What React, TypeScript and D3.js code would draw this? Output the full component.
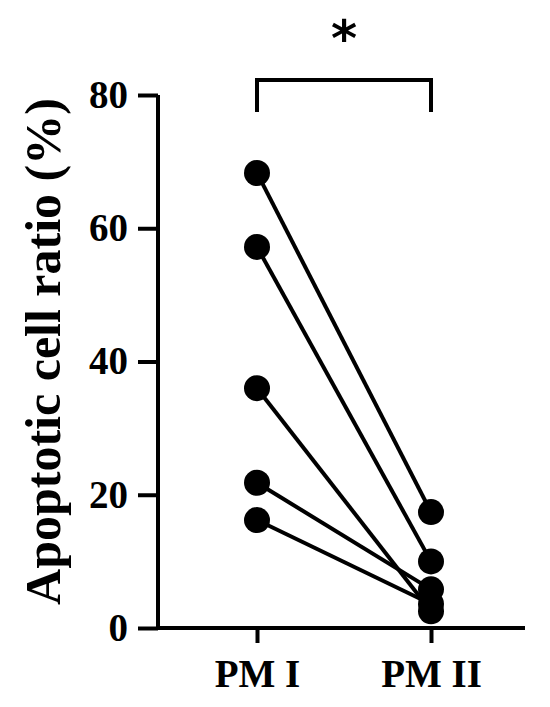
import React, { useEffect, useRef } from 'react';
import * as d3 from 'd3';

const groups = ['PM I', 'PM II'];
const pmI = [68.3, 57.2, 36.0, 21.8, 16.2];
const pmII = [17.4, 10.0, 2.5, 5.8, 3.6];
const yTicks = [0, 20, 40, 60, 80];
const yLabel = 'Apoptotic cell ratio (%)';
const sigLabel = '*';

export default function App() {
  const ref = useRef<SVGSVGElement | null>(null);

  useEffect(() => {
    const svg = d3.select(ref.current);
    svg.selectAll('*').remove();

    const font = '"Liberation Serif", "Times New Roman", serif';
    const left = 158;
    const right = 525;
    const top = 95;
    const bottom = 628;

    const x = d3.scalePoint<string>().domain(groups).range([257, 431]);
    const y = d3.scaleLinear().domain([0, 80]).range([bottom, top]);

    // axes
    const yAxis = svg.append('g').attr('transform', `translate(${left},0)`)
      .call(d3.axisLeft(y).tickValues(yTicks).tickSize(20).tickPadding(10).tickFormat(d3.format('d')));
    yAxis.select('.domain').attr('d', `M0,${top}V${bottom}`).attr('stroke-width', 4);
    yAxis.selectAll('.tick line').attr('stroke-width', 4);
    yAxis.selectAll('.tick text')
      .attr('font-family', font).attr('font-weight', 'bold').attr('font-size', 39).attr('fill', '#000');

    const xAxis = svg.append('g').attr('transform', `translate(0,${bottom})`)
      .call(d3.axisBottom(x).tickSize(15).tickPadding(16));
    xAxis.select('.domain').attr('d', `M${left},0H${right}`).attr('stroke-width', 4);
    xAxis.selectAll('.tick line').attr('stroke-width', 4);
    xAxis.selectAll('.tick text')
      .attr('font-family', font).attr('font-weight', 'bold').attr('font-size', 39).attr('fill', '#000');

    // paired lines
    const pairs = pmI.map((v, i) => [v, pmII[i]]);
    svg.append('g').selectAll('line').data(pairs).join('line')
      .attr('x1', x('PM I')!).attr('x2', x('PM II')!)
      .attr('y1', d => y(d[0])).attr('y2', d => y(d[1]))
      .attr('stroke', '#000').attr('stroke-width', 4);

    const pts = [
      ...pmI.map(v => ({ g: 'PM I', v })),
      ...pmII.map(v => ({ g: 'PM II', v })),
    ];
    svg.append('g').selectAll('circle').data(pts).join('circle')
      .attr('cx', d => x(d.g)!).attr('cy', d => y(d.v)).attr('r', 13).attr('fill', '#000');

    // significance bracket
    const by = 80;
    svg.append('path')
      .attr('d', `M${x('PM I')},${by + 32}V${by}H${x('PM II')}V${by + 32}`)
      .attr('fill', 'none').attr('stroke', '#000').attr('stroke-width', 4);
    svg.append('text')
      .attr('x', (x('PM I')! + x('PM II')!) / 2).attr('y', 56)
      .attr('text-anchor', 'middle').attr('font-family', '"DejaVu Sans", sans-serif')
      .attr('font-weight', 'bold').attr('font-size', 50).attr('fill', '#000').text(sigLabel);

    // y title
    svg.append('text')
      .attr('transform', `translate(60,${(top + bottom) / 2 - 10}) rotate(-90)`)
      .attr('text-anchor', 'middle').attr('font-family', font).attr('font-weight', 'bold')
      .attr('font-size', 50).attr('fill', '#000').text(yLabel);
  }, []);

  return (
    <svg ref={ref} width={550} height={707}
      style={{ position: 'absolute', left: 0, top: 0, background: '#fff' }} />
  );
}
